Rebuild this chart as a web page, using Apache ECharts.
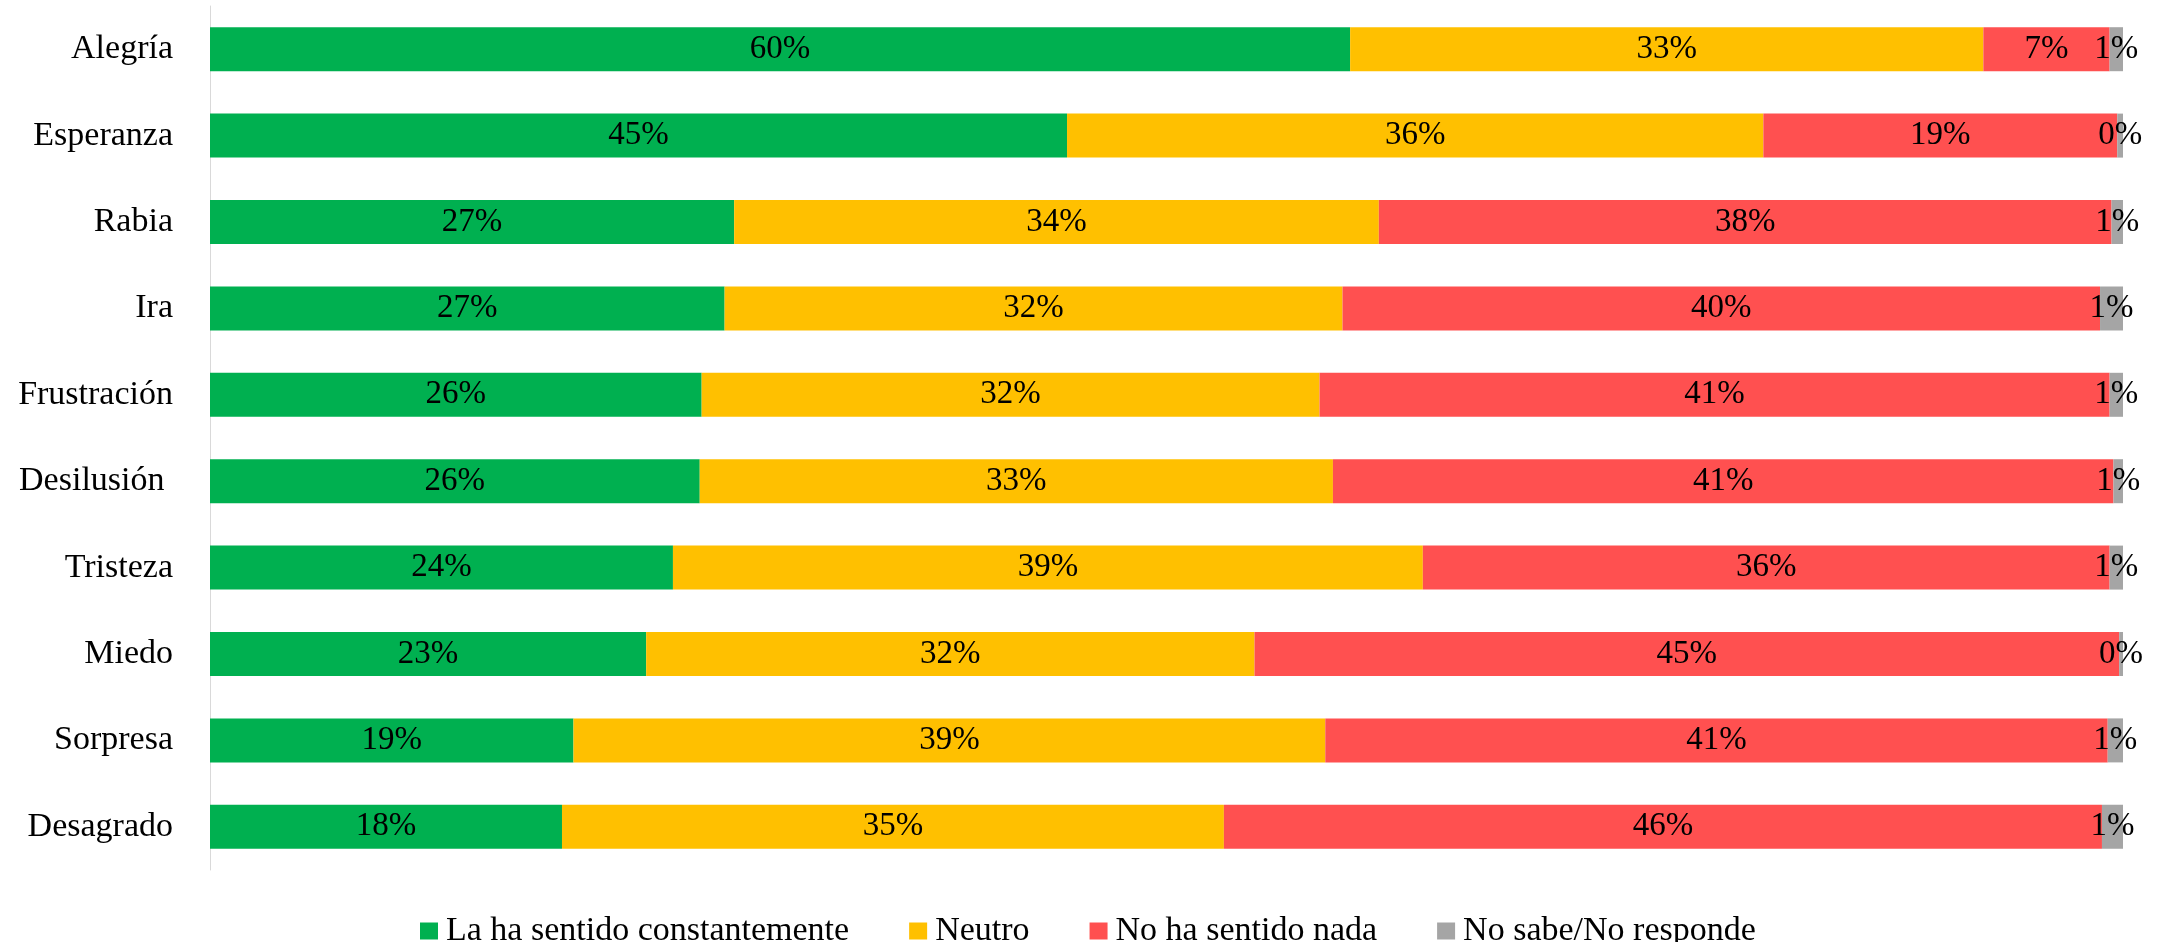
<!DOCTYPE html>
<html>
<head>
<meta charset="utf-8">
<script src="https://cdn.jsdelivr.net/npm/echarts@6/dist/echarts.min.js"></script>
<style>
  html, body { margin: 0; padding: 0; background: #fff; }
  #main { width: 2164px; height: 942px; }
</style>
</head>
<body>
<div id="main"></div>
<script>
// categories, top to bottom
var categories = ['Alegría', 'Esperanza', 'Rabia', 'Ira', 'Frustración', 'Desilusión ', 'Tristeza', 'Miedo', 'Sorpresa', 'Desagrado'];
var seriesNames = ['La ha sentido constantemente', 'Neutro', 'No ha sentido nada', 'No sabe/No responde'];

// percentages
var constantemente = [59.6, 44.8, 27.4, 26.9, 25.7, 25.6, 24.2, 22.8, 19.0, 18.4];
var neutro         = [33.1, 36.4, 33.7, 32.3, 32.3, 33.1, 39.2, 31.8, 39.3, 34.6];
var nada           = [6.6, 18.5, 38.3, 39.6, 41.3, 40.8, 35.9, 45.2, 40.9, 45.9];
var noSabe         = [0.7, 0.3, 0.6, 1.2, 0.7, 0.5, 0.7, 0.2, 0.8, 1.1];

var colors = ['#00B050', '#FFC000', '#FF5050', '#A5A5A5'];
var font = 'Liberation Serif';

var myChart = echarts.init(document.getElementById('main'));

function makeSeries(name, data, color) {
    return {
        name: name,
        type: 'bar',
        stack: 'total',
        data: data,
        barWidth: 44,
        itemStyle: { color: color },
        label: {
            show: true,
            position: 'inside',
            color: '#000',
            fontFamily: font,
            fontSize: 33,
            formatter: function (p) { return Math.round(p.value) + '%'; }
        }
    };
}

var option = {
    animation: false,
    grid: { left: 210, right: 41, top: 6, bottom: 72 },
    legend: {
        left: 415,
        top: 909,
        itemWidth: 18,
        itemHeight: 17,
        itemGap: 60,
        icon: 'rect',
        textStyle: { fontFamily: font, fontSize: 34, color: '#000', lineHeight: 34, padding: [0, 0, 0, 3] },
        data: seriesNames
    },
    xAxis: {
        type: 'value',
        min: 0,
        max: 100,
        show: false
    },
    yAxis: {
        type: 'category',
        inverse: true,
        data: categories,
        axisLine: { show: true, lineStyle: { color: '#d9d9d9', width: 1 } },
        axisTick: { show: false },
        axisLabel: { fontFamily: font, fontSize: 34, color: '#000', margin: 37 }
    },
    series: [
        makeSeries(seriesNames[0], constantemente, colors[0]),
        makeSeries(seriesNames[1], neutro, colors[1]),
        makeSeries(seriesNames[2], nada, colors[2]),
        makeSeries(seriesNames[3], noSabe, colors[3])
    ]
};

myChart.setOption(option);
</script>
</body>
</html>
